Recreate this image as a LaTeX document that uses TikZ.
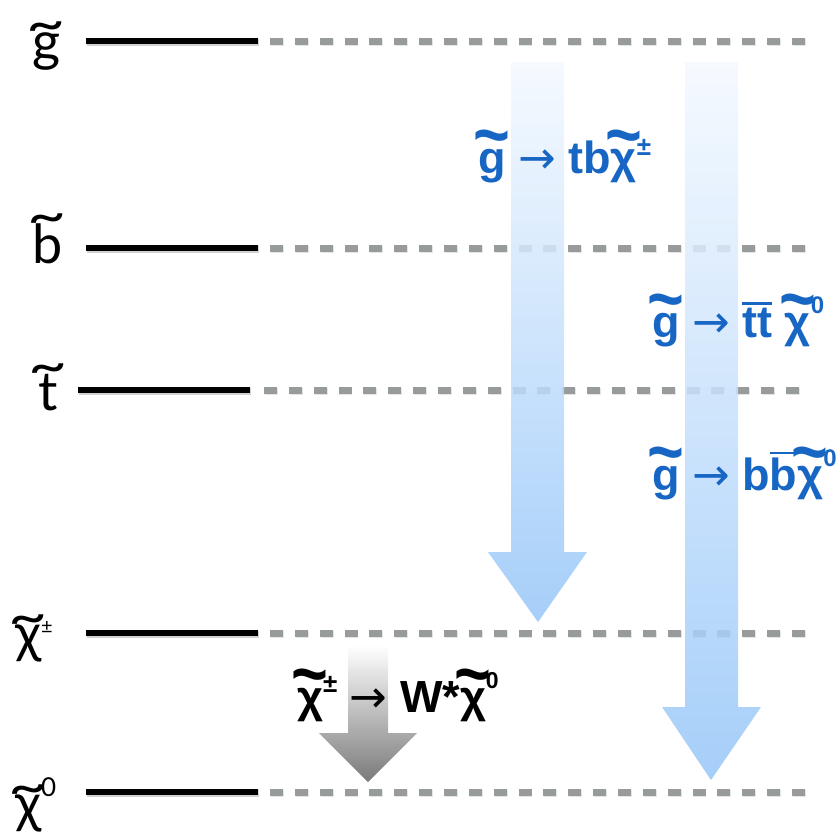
\documentclass[tikz,border=0pt]{standalone}
\usepackage{fontspec}
\usepackage{graphicx}
\setmainfont{Liberation Sans}
\newfontfamily\lightf{Lato}
\newfontfamily\arrf{DejaVu Sans}
\definecolor{lblue}{RGB}{24,102,196}
\definecolor{dashgray}{RGB}{152,155,155}
\definecolor{arrtop}{RGB}{244,249,255}
\definecolor{arrbot}{RGB}{150,198,248}
\definecolor{grtop}{RGB}{255,255,255}
\definecolor{grbot}{RGB}{115,115,115}
\newbox\wtbox
\newbox\obbox
% tilde over a glyph (bold labels)
\newcommand\wt[2][-0.24em]{\leavevmode\setbox\wtbox\hbox{#2}\rlap{\hbox to\wd\wtbox{\hss\raisebox{\dimexpr\ht\wtbox+#1\relax}{\scalebox{1.4}[1.6]{\char"7E}}\hss}}\box\wtbox}
% tilde over a glyph (level labels)
\newcommand\wtl[2][-0.20em]{\leavevmode\setbox\wtbox\hbox{#2}\rlap{\hbox to\wd\wtbox{\hss\raisebox{\dimexpr\ht\wtbox+#1\relax}{\scalebox{1.25}[1.0]{\char"7E}}\hss}}\box\wtbox}
% bar over glyphs
\newcommand\ob[1]{\leavevmode\setbox\obbox\hbox{#1}\rlap{\raisebox{\dimexpr\ht\obbox+3pt\relax}{\rule{\wd\obbox}{2.5pt}}}\box\obbox}
\newcommand\sups[3]{\raisebox{#1}{\fontsize{#2}{#2}\selectfont #3}}
\newcommand\arr{{\arrf\mdseries\fontsize{45}{45}\selectfont →}}
\begin{document}
\begin{tikzpicture}[x=1pt,y=-1pt,
  level/.style={line width=6.5pt, black},
  levelshadow/.style={line width=7pt, black, opacity=0.18},
  dots/.style={line width=7pt, dashgray, dash pattern=on 13pt off 11.86pt},
  dotshadow/.style={line width=7pt, black, opacity=0.10, dash pattern=on 13pt off 11.86pt},
  blab/.style={inner sep=0pt, anchor=base west, text=lblue, font=\fontsize{45}{45}\selectfont\bfseries},
  klab/.style={inner sep=0pt, anchor=base west, text=black, font=\fontsize{45}{45}\selectfont\bfseries},
  llab/.style={inner sep=0pt, anchor=base west, text=black, font=\lightf\fontsize{54}{54}\selectfont},
  barrow/.style={top color=arrtop, bottom color=arrbot, fill opacity=0.85},
  garrow/.style={top color=grtop, bottom color=grbot, fill opacity=0.95}]
\useasboundingbox (0,0) rectangle (840,831);
% level coordinates
\coordinate (gA) at (86,41);  \coordinate (gB) at (258,41);  \coordinate (gC) at (270,41);  \coordinate (gD) at (805,41);
\coordinate (bA) at (86,248); \coordinate (bB) at (258,248); \coordinate (bC) at (270,248); \coordinate (bD) at (805,248);
\coordinate (tA) at (78,390); \coordinate (tB) at (250,390); \coordinate (tC) at (264,390); \coordinate (tD) at (799,390);
\coordinate (cA) at (86,633); \coordinate (cB) at (258,633); \coordinate (cC) at (270,633); \coordinate (cD) at (805,633);
\coordinate (nA) at (86,792); \coordinate (nB) at (258,792); \coordinate (nC) at (270,792); \coordinate (nD) at (805,792);
\foreach \r in {g,b,t,c,n}{
  \draw[levelshadow] ([shift={(0.8,1.6)}]\r A) -- ([shift={(0.8,1.6)}]\r B);
  \draw[level] (\r A) -- (\r B);
  \draw[dotshadow] ([shift={(0.8,1.6)}]\r C) -- ([shift={(0.8,1.6)}]\r D);
  \draw[dots] (\r C) -- (\r D);
}
% level labels
\node[llab] (lg) at (32,60) {\wtl{g}};
\node[llab] (lb) at (32,263) {\wtl{b}};
\node[llab] (lt) at (38,410) {\wtl{t}};
\node[llab] (lc) at (15,652) {\wtl{χ}\sups{19pt}{20}{±}};
\node[llab] (ln) at (15,822) {\wtl{χ}\sups{26pt}{26}{0}};
% decay arrows
\shade[barrow] (511,62) -- (564,62) -- (564,552) -- (587,552) -- (538,622) -- (488,552) -- (511,552) -- cycle;
\shade[barrow] (685,62) -- (738,62) -- (738,707) -- (761,707) -- (711,780) -- (662,707) -- (685,707) -- cycle;
\shade[garrow] (348,645) -- (388,645) -- (388,733) -- (417,733) -- (368,782) -- (319,733) -- (348,733) -- cycle;
% decay labels
\node[blab] (d1) at (478,173) {\wt{g} \arr{} tb\wt{χ}\sups{18pt}{26}{±}};
\node[blab] (d2) at (652,337) {\wt{g} \arr{} \ob{tt} \wt{χ}\sups{24pt}{24}{0}};
\node[blab] (d3) at (652,490) {\wt{g} \arr{} b\ob{b}\wt{χ}\sups{24pt}{24}{0}};
\node[klab] (d4) at (297,712) {\wt{χ}\sups{20pt}{26}{±} \arr{} W*\wt{χ}\sups{24pt}{23}{0}};
\end{tikzpicture}
\end{document}
